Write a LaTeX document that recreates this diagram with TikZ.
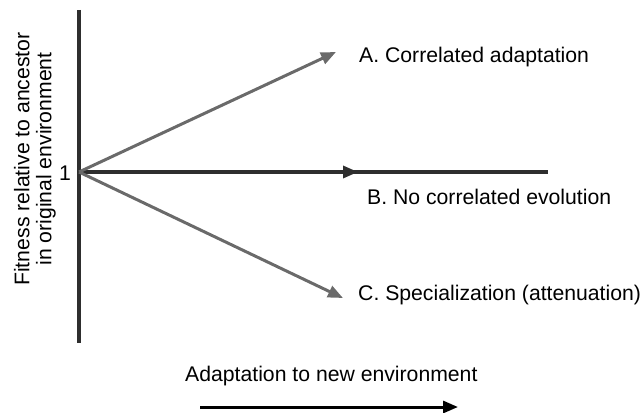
\documentclass[tikz,border=0pt]{standalone}
\usepackage{fontspec}
\setmainfont{Liberation Sans}
\usetikzlibrary{arrows.meta}
\definecolor{axisgray}{HTML}{2E2E2E}
\definecolor{arrgray}{HTML}{6A6A6A}
\begin{document}
\begin{tikzpicture}[x=1pt,y=-1pt,
  lbl/.style={font=\fontsize{21.2}{24}\selectfont, inner sep=0pt, text=black},
  tip/.style={-{Triangle[length=15pt,width=12pt]}},
  axisline/.style={draw=axisgray, line width=3.2pt},
  grayarrow/.style={draw=arrgray, fill=arrgray, line width=3pt, tip}]
\useasboundingbox (0,0) rectangle (644,412);
\coordinate (O) at (79,172);
\coordinate (top) at (79,10);
\coordinate (bot) at (79,343);
\coordinate (Bend) at (548,172);
\coordinate (Btip) at (358,172);
\coordinate (Atip) at (336,52);
\coordinate (Ctip) at (343,298);
\coordinate (Xs) at (200,407);
\coordinate (Xe) at (458,407);
% axes
\draw[axisline] (top) -- (bot);
\draw[axisline] (O) -- (Bend);
\draw[axisline, fill=axisgray, tip] (O) -- (Btip);
% arrows
\draw[grayarrow] (O) -- (Atip);
\draw[grayarrow] (O) -- (Ctip);
\draw[draw=black, fill=black, line width=3pt, tip] (Xs) -- (Xe);
% labels
\node[lbl, anchor=west] (A) at (359,57) {A. Correlated adaptation};
\node[lbl, anchor=west] (B) at (367,197) {B. No correlated evolution};
\node[lbl, anchor=west] (C) at (358,295) {C. Specialization (attenuation)};
\node[lbl, anchor=east] (one) at (71,173) {1};
\node[lbl, anchor=west] (xl) at (185,376) {Adaptation to new environment};
\node[lbl, rotate=90, align=center, font=\fontsize{21.2}{22}\selectfont] (yl) at (35,159) {Fitness relative to ancestor\\in original environment};
\end{tikzpicture}
\end{document}
